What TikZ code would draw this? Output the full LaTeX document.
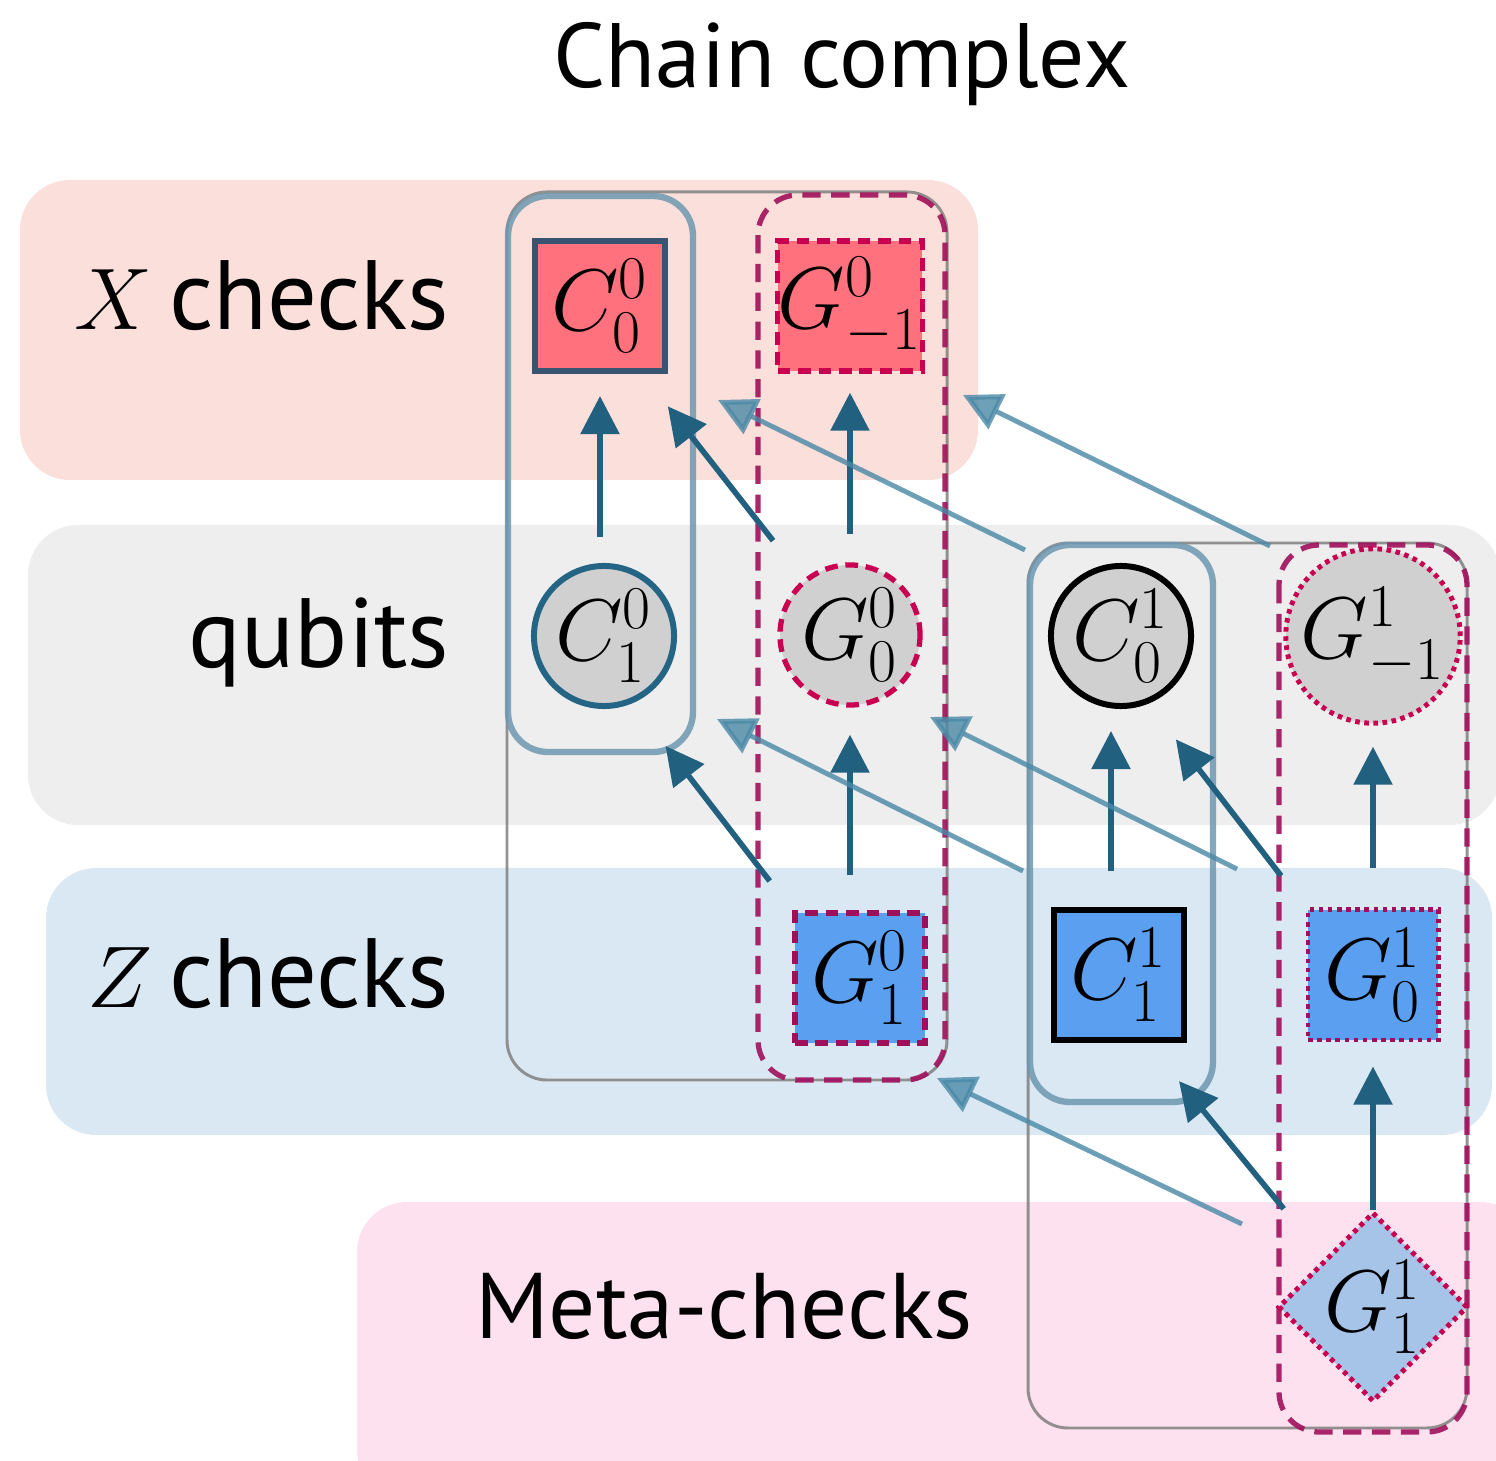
\documentclass[tikz,border=0pt]{standalone}
\usepackage{fontspec}
\setmainfont{PT Sans}
\usetikzlibrary{calc,positioning,shapes.geometric,arrows.meta}
\definecolor{xband}{HTML}{FBDFDA}
\definecolor{qband}{HTML}{EEEEEE}
\definecolor{zband}{HTML}{DAE8F3}
\definecolor{mband}{HTML}{FDE1EE}
\definecolor{xred}{HTML}{FF717D}
\definecolor{zblue}{HTML}{5BA0F0}
\definecolor{qgray}{HTML}{D0D0D0}
\definecolor{mblue}{HTML}{A6C4E8}
\definecolor{slate}{HTML}{385470}
\definecolor{qteal}{HTML}{246585}
\definecolor{crim}{HTML}{C8004F}
\definecolor{plum}{HTML}{A0105A}
\definecolor{arrcol}{HTML}{21607F}
\definecolor{mapcol}{HTML}{4A89A6}
\definecolor{grpblue}{HTML}{6D98B0}
\tikzset{>={Triangle[width=3.8mm,length=3.8mm]}}
\tikzset{
  sym/.style={inner sep=0pt, font=\fontsize{26}{26}\selectfont},
  xchk/.style={sym, rectangle, fill=xred, minimum size=1.3cm},
  zchk/.style={sym, rectangle, fill=zblue, minimum size=1.3cm},
  qbit/.style={sym, circle, fill=qgray, minimum size=1.4cm},
  metachk/.style={sym, diamond, fill=mblue, minimum size=1.82cm},
  gdash/.style={draw=crim, line width=1.5pt, dash pattern=on 3.6pt off 2.2pt},
  gdot/.style={draw=crim, line width=1.4pt, dash pattern=on 1.3pt off 1.3pt},
  rowlabel/.style={anchor=base east, inner sep=0pt, font=\fontsize{28}{28}\selectfont},
  band/.style={rounded corners=0.5cm},
  grpline/.style={draw=gray, draw opacity=0.85, line width=0.85pt, rounded corners=0.4cm},
  cgrp/.style={draw=grpblue, draw opacity=0.85, line width=1.8pt, rounded corners=0.4cm},
  ggrp/.style={draw=plum, draw opacity=0.9, line width=1.5pt, dash pattern=on 5.2pt off 3pt, rounded corners=0.4cm},
  arr/.style={->, draw=arrcol, fill=arrcol, line width=1.6pt},
  maparr/.style={->, draw=mapcol, fill=mapcol, opacity=0.8, line width=1.4pt}
}
\begin{document}
\begin{tikzpicture}[x=0.01cm, y=-0.01cm]
    \useasboundingbox (0,0) rectangle (1496,1461);
    \fill[xband, band] (20,180) rectangle (978,480);
    \fill[qband, band] (28,525) rectangle (1500,825);
    \fill[zband, band] (46,868) rectangle (1492,1135);
    \fill[mband, band] (357,1202) rectangle (1530,1500);
    \node[anchor=base, font=\fontsize{26}{26}\selectfont] (title) at (842,88) {Chain complex};
    \node[rowlabel] (xlab) at (450,330) {$X$\,checks};
    \node[rowlabel] (qlab) at (450,668) {qubits};
    \node[rowlabel] (zlab) at (450,1008) {$Z$\,checks};
    \node[anchor=base, font=\fontsize{26.5}{26.5}\selectfont] (mlab) at (724,1338) {Meta-checks};

    \draw[grpline] (507,192) rectangle (947,1080);
    \draw[grpline] (1028,543) rectangle (1467,1428);
    \draw[cgrp] (508,196) rectangle (693,752);
    \draw[cgrp] (1030,545) rectangle (1213,1102);
    \draw[ggrp] (758,195) rectangle (945,1080);
    \draw[ggrp] (1279,545) rectangle (1467,1432);

    \node[xchk, draw=slate, line width=1.7pt] (c00) at (600,306) {$C^{0}_{0}$};
    \node[xchk, gdash] (g0m) at (850,306) {$G^{0}_{-1}$};
    \node[qbit, draw=qteal, line width=1.7pt] (c01) at (604,636) {$C^{0}_{1}$};
    \node[qbit, gdash] (g00) at (850,635) {$G^{0}_{0}$};
    \node[qbit, draw=black, line width=1.7pt] (c10) at (1121,636) {$C^{1}_{0}$};
    \node[qbit, gdot] (g1m) at (1373,636) {$G^{1}_{-1}$};
    \node[zchk, gdash, draw=plum] (g01) at (860,978) {$G^{0}_{1}$};
    \node[zchk, draw=black, line width=1.8pt] (c11) at (1119,975) {$C^{1}_{1}$};
    \node[zchk, gdot, draw=plum] (g10) at (1373,975) {$G^{1}_{0}$};
    \node[metachk, gdot] (g11) at (1373,1307) {$G^{1}_{1}$};

    \draw[arr, shorten <=0.26cm, shorten >=0.22cm] (c00.south |- c01.north) -- (c00.south);
    \draw[arr, shorten <=0.49cm, shorten >=0.41cm] (g00.130) -- (c00.-58);
    \draw[arr, shorten <=0.28cm, shorten >=0.19cm] (g00) -- (g0m);
    \draw[arr, shorten <=0.37cm, shorten >=0.54cm] (g01.north west) -- (c01.-67);
    \draw[arr, shorten <=0.35cm, shorten >=0.27cm] (g00.south |- g01.north) -- (g00.south);
    \draw[arr, shorten <=0.36cm, shorten >=0.22cm] ([xshift=-0.08cm]c11.north) -- ([xshift=-0.1cm]c10.south);
    \draw[arr, shorten <=0.40cm, shorten >=0.45cm] (g10.north west) -- (c10.-68);
    \draw[arr, shorten <=0.39cm, shorten >=0.21cm] (g10) -- (g1m);
    \draw[arr, shorten <=0.64cm, shorten >=0.49cm] (g11.north west) -- (c11.-67);
    \draw[arr, shorten >=0.24cm] (g11) -- (g10);

    \coordinate (ms1) at (1025,550); \coordinate (me1) at (718,400);
    \coordinate (ms2) at (1270,546); \coordinate (me2) at (963,395);
    \coordinate (ms3) at (1023,871); \coordinate (me3) at (717,719);
    \coordinate (ms4) at (1237,869); \coordinate (me4) at (930,717);
    \coordinate (ms5) at (1242,1224); \coordinate (me5) at (937,1078);
    \foreach \i in {1,...,5}
        \draw[maparr] (ms\i) -- (me\i);
\end{tikzpicture}
\end{document}
